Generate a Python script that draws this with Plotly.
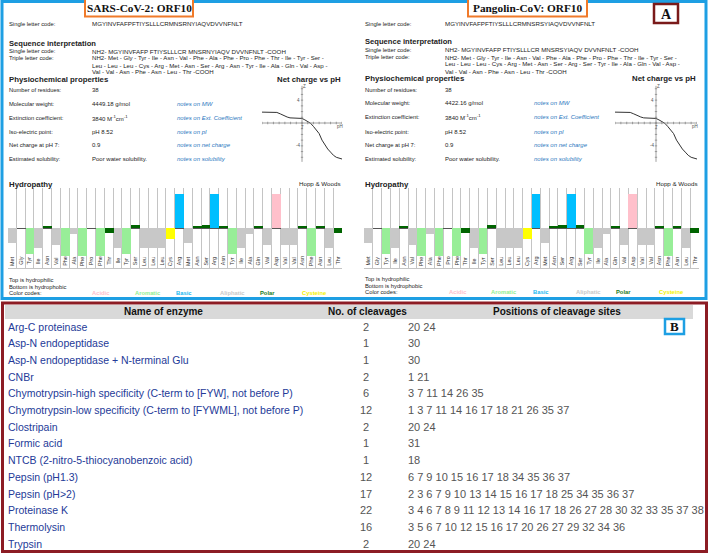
import plotly.graph_objects as go

W, H = 710, 553
SANS = "Liberation Sans, Arial, sans-serif"
SERIF = "Liberation Serif, Times New Roman, serif"

# ---------------- data ----------------
sars_title = "SARS-CoV-2: ORF10"
pang_title = "Pangolin-CoV: ORF10"

sars_single = "MGYINVFAFPFTIYSLLLCRMNSRNYIAQVDVVNFNLT"
pang_single = "MGYINVFAFPFTIYSLLLCRMNSRSYIAQVDVVNFNLT"
sars_interp = "NH2- MGYINVFAFP FTIYSLLLCR MNSRNYIAQV DVVNFNLT -COOH"
pang_interp = "NH2- MGYINVFAFP FTIYSLLLCR MNSRSYIAQV DVVNFNLT -COOH"
sars_triple = ["NH2- Met - Gly - Tyr - Ile - Asn - Val - Phe - Ala - Phe - Pro - Phe - Thr - Ile - Tyr - Ser -",
               "Leu - Leu - Leu - Cys - Arg - Met - Asn - Ser - Arg - Asn - Tyr - Ile - Ala - Gln - Val - Asp -",
               "Val - Val - Asn - Phe - Asn - Leu - Thr -COOH"]
pang_triple = ["NH2- Met - Gly - Tyr - Ile - Asn - Val - Phe - Ala - Phe - Pro - Phe - Thr - Ile - Tyr - Ser -",
               "Leu - Leu - Leu - Cys - Arg - Met - Asn - Ser - Arg - Ser - Tyr - Ile - Ala - Gln - Val - Asp -",
               "Val - Val - Asn - Phe - Asn - Leu - Thr -COOH"]

prop_labels = ["Number of residues:", "Molecular weight:", "Extinction coefficient:",
               "Iso-electric point:", "Net charge at pH 7:", "Estimated solubility:"]
sars_props = ["38", "4449.18 g/mol", "3840 M<sup>-1</sup>cm<sup>-1</sup>", "pH 8.52", "0.9", "Poor water solubility."]
pang_props = ["38", "4422.16 g/mol", "3840 M<sup>-1</sup>cm<sup>-1</sup>", "pH 8.52", "0.9", "Poor water solubility."]
prop_notes = ["", "notes on MW", "notes on Ext. Coefficient", "notes on pI", "notes on net charge", "notes on solubility"]

sars_residues = ["Met", "Gly", "Tyr", "Ile", "Asn", "Val", "Phe", "Ala", "Phe", "Pro", "Phe", "Thr", "Ile",
                 "Tyr", "Ser", "Leu", "Leu", "Leu", "Cys", "Arg", "Met", "Asn", "Ser", "Arg", "Asn", "Tyr",
                 "Ile", "Ala", "Gln", "Val", "Asp", "Val", "Val", "Asn", "Phe", "Asn", "Leu", "Thr"]
sars_hydropathy = [-1.3, 0.0, -2.3, -1.8, 0.2, -1.5, -2.5, -0.5, -2.5, 0.0, -2.5, -0.4, -1.8,
                   -2.3, 0.3, -1.8, -1.8, -1.8, -1.0, 3.0, -1.3, 0.2, 0.3, 3.0, 0.2, -2.3,
                   -1.8, -0.5, 0.2, -1.5, 3.0, -1.5, -1.5, 0.2, -2.5, 0.2, -1.8, -0.4]
pang_residues = ["Met", "Gly", "Tyr", "Ile", "Asn", "Val", "Phe", "Ala", "Phe", "Pro", "Phe", "Thr", "Ile",
                 "Tyr", "Ser", "Leu", "Leu", "Leu", "Cys", "Arg", "Met", "Asn", "Ser", "Arg", "Ser", "Tyr",
                 "Ile", "Ala", "Gln", "Val", "Asp", "Val", "Val", "Asn", "Phe", "Asn", "Leu", "Thr"]
pang_hydropathy = [-1.3, 0.0, -2.3, -1.8, 0.2, -1.5, -2.5, -0.5, -2.5, 0.0, -2.5, -0.4, -1.8,
                   -2.3, 0.3, -1.8, -1.8, -1.8, -1.0, 3.0, -1.3, 0.2, 0.3, 3.0, 0.3, -2.3,
                   -1.8, -0.5, 0.2, -1.5, 3.0, -1.5, -1.5, 0.2, -2.5, 0.2, -1.8, -0.4]

ph_values = [0, 1, 2, 2.6, 3.2, 3.8, 4.4, 4.9, 5.5, 6.2, 7, 7.5, 8, 8.5, 9, 9.5, 10, 10.5, 11, 11.5, 12, 12.5, 13, 13.5, 14]
sars_charge = [1.9, 1.9, 1.9, 1.85, 1.6, 1.3, 1.05, 0.9, 0.85, 0.85, 0.8, 0.55, 0.2, -0.05, -0.6, -1.2, -1.85,
               -3.0, -3.8, -4.55, -5.1, -5.65, -6.0, -6.2, -6.3]
pang_charge = [1.9, 1.9, 1.9, 1.85, 1.6, 1.3, 1.05, 0.9, 0.85, 0.85, 0.8, 0.55, 0.2, -0.05, -0.6, -1.2, -1.85,
               -3.0, -3.8, -4.55, -5.1, -5.65, -6.0, -6.2, -6.3]

color_code_names = ["Acidic", "Aromatic", "Basic", "Aliphatic", "Polar", "Cysteine"]

enzymes = ["Arg-C proteinase", "Asp-N endopeptidase", "Asp-N endopeptidase + N-terminal Glu", "CNBr",
           "Chymotrypsin-high specificity (C-term to [FYW], not before P)",
           "Chymotrypsin-low specificity (C-term to [FYWML], not before P)",
           "Clostripain", "Formic acid", "NTCB (2-nitro-5-thiocyanobenzoic acid)", "Pepsin (pH1.3)",
           "Pepsin (pH>2)", "Proteinase K", "Thermolysin", "Trypsin"]
cleavage_counts = [2, 1, 1, 2, 6, 12, 2, 1, 1, 12, 17, 22, 16, 2]
cleavage_positions = ["20 24", "30", "30", "1 21", "3 7 11 14 26 35", "1 3 7 11 14 16 17 18 21 26 35 37",
                      "20 24", "31", "18", "6 7 9 10 15 16 17 18 34 35 36 37",
                      "2 3 6 7 9 10 13 14 15 16 17 18 25 34 35 36 37",
                      "3 4 6 7 8 9 11 12 13 14 16 17 18 26 27 28 30 32 33 35 37 38",
                      "3 5 6 7 10 12 15 16 17 20 26 27 29 32 34 36", "20 24"]
table_headers = ["Name of enzyme", "No. of cleavages", "Positions of cleavage sites"]

# ---------------- styles ----------------
residue_class = {"Met": "Aliphatic", "Ile": "Aliphatic", "Val": "Aliphatic", "Leu": "Aliphatic", "Ala": "Aliphatic",
                 "Gly": "Aliphatic", "Pro": "Aliphatic", "Phe": "Aromatic", "Tyr": "Aromatic", "Trp": "Aromatic",
                 "Arg": "Basic", "Lys": "Basic", "His": "Basic", "Asp": "Acidic", "Glu": "Acidic",
                 "Asn": "Polar", "Ser": "Polar", "Thr": "Polar", "Gln": "Polar", "Cys": "Cysteine"}
class_color = {"Acidic": "#ffc0cb", "Aromatic": "#98ee98", "Basic": "#00bfff",
               "Aliphatic": "#c8c8c8", "Polar": "#006400", "Cysteine": "#ffff00"}
legend_color = {"Acidic": "#ffc0cb", "Aromatic": "#90ee90", "Basic": "#1ab8f0",
                "Aliphatic": "#c8c8c8", "Polar": "#1a7a1a", "Cysteine": "#f2f200"}

BLUE = "#1e9fe3"
RED = "#8c1c24"
ORANGE = "#f07a2a"
TXT = "#222222"
NOTE = "#2a78c0"
TBLUE = "#243a98"
TGRAY = "#555555"


def X(p):
    return p / W


def Y(p):
    return 1 - p / H


annotations = []
shapes = []


def txt(x, y, s, size=6.2, color=TXT, xa="left", bold=False, italic=False, family=SANS):
    if bold:
        s = "<b>" + s + "</b>"
    if italic:
        s = "<i>" + s + "</i>"
    annotations.append(dict(x=X(x), y=Y(y), xref="paper", yref="paper", text=s, showarrow=False,
                            xanchor=xa, yanchor="middle", borderpad=0,
                            font=dict(size=size, color=color, family=family)))


def rect(x0, y0, x1, y1, line=None, lw=0, fill=None):
    d = dict(type="rect", xref="paper", yref="paper", x0=X(x0), x1=X(x1), y0=Y(y1), y1=Y(y0),
             line=dict(width=lw, color=line or "rgba(0,0,0,0)"))
    if fill:
        d["fillcolor"] = fill
    shapes.append(d)


fig = go.Figure()

# frames
rect(2, 1.5, 706, 298.5, line=BLUE, lw=3)
rect(2.5, 303, 706.5, 551.5, line=RED, lw=3)
rect(5, 305, 693, 319, fill="#d9d9d9")

panels = [
    dict(ox=0, title=sars_title, tbox=(85, 193), single=sars_single, interp=sars_interp, triple=sars_triple,
         props=sars_props, res=sars_residues, hyd=sars_hydropathy, charge=sars_charge,
         lx=8, vx=91, nx=176, hx=(7.5, 342), cx=(262, 342), ax="x", ay="y", cax="x3", cay="y3",
         legx=[101, 148, 184, 232, 267, 314], dy=0),
    dict(ox=350, title=pang_title, tbox=(468, 587), single=pang_single, interp=pang_interp, triple=pang_triple,
         props=pang_props, res=pang_residues, hyd=pang_hydropathy, charge=pang_charge,
         lx=364, vx=444, nx=533, hx=(364, 699), cx=(615, 697), ax="x2", ay="y2", cax="x4", cay="y4",
         legx=[458, 504, 541, 588, 623, 671], dy=-1),
]

layout_axes = {}
for k, p in enumerate(panels):
    lx, vx, nx, dy = p["lx"], p["vx"], p["nx"], p["dy"]
    # title box
    rect(p["tbox"][0], -3, p["tbox"][1], 16.5, line=ORANGE, lw=2, fill="white")
    txt((p["tbox"][0] + p["tbox"][1]) / 2, 8, p["title"], size=11.3, color="#111", xa="center", bold=True,
        family=SERIF)
    txt(lx, 24, "Single letter code:", size=5.8)
    txt(vx, 24, p["single"], size=6.2)
    txt(lx, 43 + dy, "Sequence interpretation", size=7.6, bold=True)
    txt(lx, 51 + dy, "Single letter code:", size=5.8)
    txt(lx, 58 + dy, "Triple letter code:", size=5.8)
    txt(vx, 51 + dy, p["interp"], size=6.2)
    for i, line in enumerate(p["triple"]):
        txt(vx, 58 + dy + 7 * i, line, size=6.1)
    txt(lx, 80 + dy, "Physiochemical properties", size=7.8, bold=True)
    txt(p["cx"][1], 80 + dy, "Net charge vs pH", size=7.8, bold=True, xa="right")
    rows_y = [90, 104, 118, 132, 145, 159]
    for lab, val, note, yy in zip(prop_labels, p["props"], prop_notes, rows_y):
        txt(lx, yy + dy * 0.5, lab, size=5.8)
        txt(vx, yy + dy * 0.5, val, size=6.0)
        if note:
            txt(nx, yy + dy * 0.5, note, size=6.0, color=NOTE, italic=True)
    txt(lx, 184, "Hydropathy", size=7.8, bold=True)
    txt(p["hx"][1], 183, "Hopp & Woods", size=6.2, xa="right")
    txt(lx, 280 + dy, "Top is hydrophilic", size=5.8)
    txt(lx, 286.5 + dy, "Bottom is hydrophobic", size=5.8)
    txt(lx, 293 + dy, "Color codes:", size=5.8)
    for name, cxp in zip(color_code_names, p["legx"]):
        txt(cxp, 293 + dy, name, size=5.8, color=legend_color[name], xa="center", bold=True)

    # hydropathy bars
    colors = [class_color[residue_class[r]] for r in p["res"]]
    idx = list(range(len(p["res"])))
    fig.add_trace(go.Bar(x=idx, y=p["hyd"], marker=dict(color=colors, line=dict(width=0)), width=1,
                         xaxis=p["ax"], yaxis=p["ay"], showlegend=False, hoverinfo="skip"))
    for i, r in zip(idx, p["res"]):
        annotations.append(dict(x=i, y=-2.93, xref=p["ax"], yref=p["ay"], text=r, textangle=-90,
                                showarrow=False, font=dict(size=5.4, color="#333", family=SANS)))
    axn = p["ax"].replace("x", "xaxis")
    ayn = p["ay"].replace("y", "yaxis")
    layout_axes[axn] = dict(domain=[X(p["hx"][0]), X(p["hx"][1])], range=[-0.5, len(idx) - 0.5],
                            showticklabels=False, showgrid=False, zeroline=False, fixedrange=True,
                            minor=dict(showgrid=True, tick0=-0.5, dtick=1, gridcolor="#c4c4c4", gridwidth=1),
                            anchor=p["ay"], showline=True, linecolor="#c4c4c4", mirror=False)
    layout_axes[ayn] = dict(domain=[Y(268), Y(188)], range=[-3.55, 3.55], showticklabels=False,
                            showgrid=False, zeroline=True, zerolinecolor="#555", zerolinewidth=1,
                            anchor=p["ax"], fixedrange=True)

    # net charge plot
    fig.add_trace(go.Scatter(x=ph_values, y=p["charge"], mode="lines", line=dict(color="#333", width=1),
                             xaxis=p["cax"], yaxis=p["cay"], showlegend=False, hoverinfo="skip"))
    caxn = p["cax"].replace("x", "xaxis")
    cayn = p["cay"].replace("y", "yaxis")
    layout_axes[caxn] = dict(domain=[X(p["cx"][0]), X(p["cx"][1])], range=[0, 14], visible=False,
                             anchor=p["cay"], fixedrange=True)
    layout_axes[cayn] = dict(domain=[Y(163), Y(83)], range=[-7, 7], visible=False,
                             anchor=p["cax"], fixedrange=True)
    ax_c = dict(xref=p["cax"], yref=p["cay"], line=dict(color="#888", width=0.8), type="line")
    shapes.append(dict(ax_c, x0=0, x1=14, y0=0, y1=0))
    shapes.append(dict(ax_c, x0=7, x1=7, y0=-6.8, y1=6.5))
    for t in range(0, 15):
        shapes.append(dict(ax_c, x0=t, x1=t, y0=-0.22, y1=0.22))
    for t in range(-6, 7):
        shapes.append(dict(ax_c, x0=6.8, x1=7.2, y0=t, y1=t))
    for s, xx, yy in [("Z", 7.35, 6.4), ("4", 6.45, 4), ("-4", 6.35, -4), ("7", 7.0, -0.75), ("pH", 13.6, -0.6)]:
        annotations.append(dict(x=xx, y=yy, xref=p["cax"], yref=p["cay"], text=s, showarrow=False,
                                font=dict(size=4.5, color="#555", family=SANS)))

# A / B labels
rect(654, 4, 678, 23, line="#7a1a1a", lw=2.5, fill="white")
txt(666, 14, "A", size=14, color="#111", xa="center", bold=True, family=SERIF)
rect(665, 319, 684, 334, line=BLUE, lw=2.5, fill="white")
txt(674.5, 326.8, "B", size=13, color="#111", xa="center", bold=True, family=SERIF)

# table
txt(163, 311.5, table_headers[0], size=10, color="#111", xa="center", bold=True)
txt(367, 311.5, table_headers[1], size=10, color="#111", xa="center", bold=True)
txt(557, 311.5, table_headers[2], size=10, color="#111", xa="center", bold=True)
for i, (e, c, pos) in enumerate(zip(enzymes, cleavage_counts, cleavage_positions)):
    yy = 326.5 + 16.7 * i
    txt(7, yy, e, size=10.5, color=TBLUE)
    txt(366, yy, str(c), size=11, color=TGRAY, xa="center")
    txt(407, yy, pos, size=11, color=TGRAY)

fig.update_layout(width=W, height=H, margin=dict(l=0, r=0, t=0, b=0), autosize=False,
                  paper_bgcolor="white", plot_bgcolor="white", bargap=0, showlegend=False,
                  annotations=annotations, shapes=shapes, **layout_axes)
fig.write_html("out.html", config={"displayModeBar": False},
               post_script="document.body.style.margin='0';document.body.style.overflow='hidden';")
